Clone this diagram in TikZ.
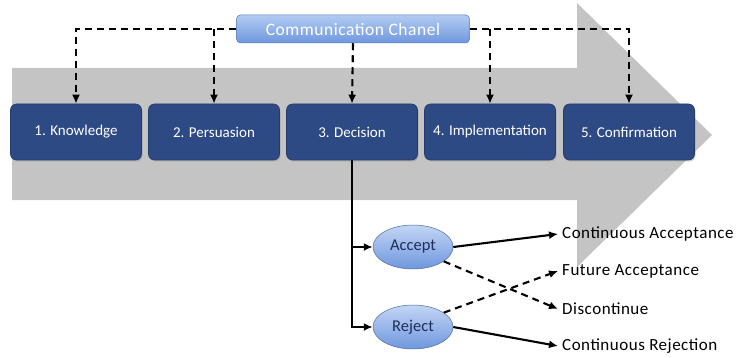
\documentclass[tikz,border=0pt]{standalone}
\usepackage{fontspec}
\setmainfont{Carlito}
\newfontfamily\spacedfont[LetterSpace=3]{Carlito}
\usetikzlibrary{shapes.geometric,arrows.meta,shadows}
\definecolor{boxblue}{HTML}{2E4A85}
\definecolor{arrowgray}{HTML}{C4C4C4}
\definecolor{lightblueA}{HTML}{B3CBF2}
\definecolor{lightblueB}{HTML}{6F97DE}
\definecolor{textdark}{HTML}{1E2F5A}
\tikzset{
  stage/.style={draw=boxblue!80!black, line width=0.6pt, fill=boxblue, rounded corners=6pt,
    minimum width=131pt, minimum height=56pt, text=white, font=\fontsize{15}{17}\selectfont,
    drop shadow={shadow xshift=1pt, shadow yshift=-1.5pt, opacity=0.35}},
  chanel/.style={draw=lightblueB!80!black, line width=0.5pt, top color=lightblueA, bottom color=lightblueB,
    rounded corners=4pt, minimum width=233pt, minimum height=28pt, text=white,
    font=\spacedfont\fontsize{17.5}{20}\selectfont},
  choice/.style={ellipse, draw=lightblueB!70!black, line width=0.5pt, top color=lightblueA!80!white,
    bottom color=lightblueB, minimum width=80pt, minimum height=44pt, text=textdark,
    font=\fontsize{16.5}{18}\selectfont},
  outcome/.style={anchor=west, inner sep=0pt, font=\spacedfont\fontsize{17}{19}\selectfont},
  dashline/.style={draw=black, line width=2.1pt, dash pattern=on 7pt off 5pt, -{Latex[length=9pt,width=8pt]}},
  solidline/.style={draw=black, line width=2.1pt, -{Latex[length=9pt,width=8pt]}},
}
\begin{document}
\begin{tikzpicture}[x=1pt,y=-1pt]
\useasboundingbox (0,0) rectangle (743,358);
\fill[arrowgray] (12,68) -- (577,68) -- (577,3) -- (712,135) -- (577,267) -- (577,200) -- (12,200) -- cycle;

\node[stage] (k) at (76,132) {1. Knowledge};
\node[stage] (p) at (214,132) {2. Persuasion};
\node[stage] (d) at (352,132) {3. Decision};
\node[stage] (i) at (490,132) {4. Implementation};
\node[stage] (c) at (629,132) {5. Confirmation};

\node[chanel] (ch) at (353,29) {Communication Chanel};

\coordinate (kt) at (k.north |- ch.center);
\coordinate (pt) at (p.north |- ch.center);
\coordinate (it) at (i.north |- ch.center);
\coordinate (ct) at (c.north |- ch.center);
\draw[dashline] (ch.west) -- (kt) -- (k.north);
\draw[dashline] (pt) -- (p.north);
\draw[dashline] (ch.south) -- (d.north);
\draw[dashline] (ch.east) -- (ct) -- (c.north);
\draw[dashline] (it) -- (i.north);

\node[choice] (acc) at (413,247) {Accept};
\node[choice] (rej) at (413,327) {Reject};

\draw[solidline] (d.south) |- (acc.west);
\draw[solidline] (d.south) |- (rej.west);

\node[outcome] (ca) at (562,234) {Continuous Acceptance};
\node[outcome] (fa) at (562,271) {Future Acceptance};
\node[outcome] (dc) at (562,309) {Discontinue};
\node[outcome] (cr) at (562,346) {Continuous Rejection};

\draw[solidline] (acc.east) -- ([xshift=-4pt]ca.west);
\draw[dashline] (acc.-25) -- ([xshift=-4pt]dc.west);
\draw[dashline] (rej.25) -- ([xshift=-4pt]fa.west);
\draw[solidline] (rej.east) -- ([xshift=-4pt]cr.west);
\end{tikzpicture}
\end{document}
